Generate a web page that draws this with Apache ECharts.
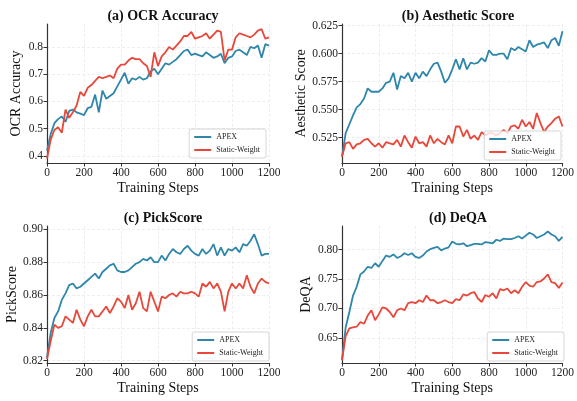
<!DOCTYPE html>
<html>
<head>
<meta charset="utf-8">
<script src="https://cdn.jsdelivr.net/npm/echarts@6/dist/echarts.min.js"></script>
<style>
html, body { margin: 0; padding: 0; background: #fff; }
#main { width: 577px; height: 401px; }
</style>
</head>
<body>
<div id="main"></div>
<script>
// training steps shared by every curve
var steps = [0,20,40,60,80,100,120,140,160,180,200,220,240,260,280,300,320,340,360,380,
  400,420,440,460,480,500,520,540,560,580,600,620,640,660,680,700,720,740,760,780,
  800,820,840,860,880,900,920,940,960,980,1000,1020,1040,1060,1080,1100,1120,1140,1160,1180,1200];

var ocrApex = [0.42,0.48,0.52,0.535,0.545,0.525,0.565,0.57,0.56,0.555,
  0.55,0.575,0.58,0.625,0.56,0.64,0.61,0.62,0.63,0.655,
  0.68,0.705,0.665,0.685,0.68,0.69,0.68,0.685,0.71,0.72,
  0.70,0.72,0.74,0.735,0.745,0.755,0.77,0.785,0.79,0.77,
  0.775,0.77,0.765,0.78,0.77,0.76,0.765,0.775,0.74,0.76,
  0.765,0.785,0.79,0.78,0.77,0.8,0.795,0.805,0.76,0.81,
  0.805];
var ocrStatic = [0.39,0.46,0.495,0.505,0.485,0.57,0.54,0.56,0.585,0.635,
  0.62,0.65,0.66,0.675,0.69,0.685,0.69,0.695,0.685,0.72,
  0.735,0.735,0.75,0.76,0.755,0.755,0.74,0.73,0.69,0.78,
  0.73,0.765,0.78,0.8,0.79,0.805,0.82,0.84,0.84,0.855,
  0.83,0.835,0.84,0.85,0.83,0.845,0.86,0.855,0.75,0.79,
  0.79,0.835,0.85,0.845,0.84,0.835,0.845,0.86,0.865,0.83,
  0.835];
var aesApex = [0.508,0.529,0.537,0.545,0.552,0.555,0.56,0.569,0.566,0.566,
  0.566,0.569,0.574,0.575,0.583,0.568,0.58,0.578,0.583,0.575,
  0.583,0.578,0.584,0.58,0.586,0.591,0.592,0.584,0.574,0.578,
  0.586,0.595,0.586,0.596,0.586,0.592,0.591,0.592,0.596,0.593,
  0.603,0.599,0.599,0.6,0.6,0.595,0.605,0.603,0.606,0.604,
  0.602,0.612,0.606,0.608,0.609,0.61,0.605,0.612,0.614,0.607,
  0.62];
var aesStatic = [0.508,0.52,0.521,0.515,0.519,0.52,0.523,0.524,0.52,0.517,
  0.52,0.516,0.521,0.52,0.519,0.523,0.517,0.527,0.521,0.516,
  0.526,0.52,0.521,0.517,0.527,0.52,0.524,0.521,0.519,0.527,
  0.52,0.535,0.535,0.526,0.532,0.524,0.527,0.523,0.53,0.527,
  0.529,0.529,0.527,0.529,0.532,0.529,0.535,0.536,0.533,0.541,
  0.535,0.539,0.533,0.547,0.538,0.53,0.535,0.538,0.542,0.544,
  0.535];
var pickApex = [0.822,0.837,0.846,0.85,0.857,0.861,0.866,0.867,0.864,0.865,
  0.867,0.869,0.871,0.873,0.87,0.874,0.876,0.878,0.879,0.875,
  0.874,0.874,0.875,0.877,0.879,0.88,0.882,0.881,0.883,0.88,
  0.88,0.884,0.881,0.885,0.888,0.886,0.885,0.888,0.89,0.887,
  0.885,0.884,0.888,0.885,0.887,0.891,0.884,0.889,0.884,0.888,
  0.887,0.889,0.886,0.891,0.89,0.893,0.897,0.891,0.884,0.885,
  0.885];
var pickStatic = [0.821,0.832,0.842,0.84,0.841,0.847,0.845,0.843,0.851,0.845,
  0.841,0.847,0.851,0.847,0.847,0.85,0.853,0.849,0.853,0.858,
  0.856,0.852,0.86,0.851,0.855,0.862,0.852,0.85,0.862,0.856,
  0.85,0.859,0.858,0.86,0.861,0.859,0.862,0.861,0.861,0.862,
  0.861,0.859,0.867,0.865,0.868,0.864,0.867,0.862,0.85,0.862,
  0.867,0.864,0.867,0.864,0.872,0.865,0.861,0.867,0.87,0.868,
  0.867];
var deqaApex = [0.612,0.668,0.694,0.722,0.737,0.758,0.763,0.771,0.769,0.777,
  0.771,0.781,0.79,0.788,0.792,0.786,0.789,0.794,0.791,0.794,
  0.788,0.786,0.79,0.797,0.801,0.803,0.805,0.799,0.802,0.804,
  0.814,0.81,0.809,0.811,0.806,0.808,0.81,0.81,0.809,0.813,
  0.812,0.811,0.817,0.815,0.819,0.818,0.818,0.82,0.823,0.819,
  0.824,0.829,0.826,0.82,0.823,0.826,0.831,0.826,0.823,0.815,
  0.822];
var deqaStatic = [0.612,0.653,0.666,0.668,0.669,0.677,0.674,0.688,0.697,0.68,
  0.69,0.702,0.7,0.694,0.685,0.697,0.7,0.697,0.709,0.711,
  0.709,0.714,0.711,0.722,0.714,0.714,0.709,0.711,0.714,0.711,
  0.709,0.716,0.714,0.724,0.722,0.726,0.728,0.717,0.711,0.723,
  0.72,0.726,0.717,0.733,0.731,0.734,0.726,0.731,0.726,0.737,
  0.745,0.739,0.737,0.745,0.746,0.751,0.758,0.745,0.743,0.735,
  0.744];

var ocrTicks = [0.4,0.5,0.6,0.7,0.8];
var aesTicks = [0.525,0.55,0.575,0.6,0.625];
var pickTicks = [0.82,0.84,0.86,0.88,0.9];
var deqaTicks = [0.65,0.7,0.75,0.8];
var seriesNames = ['APEX','Static-Weight'];

var FONT = 'Liberation Serif';
var BLUE = '#2e86ab';
var RED = '#e8483a';
var INK = '#222';

var panels = [
  {title:'(a) OCR Accuracy', yName:'OCR Accuracy', a:ocrApex, s:ocrStatic, ticks:ocrTicks, dec:1,
   min:0.374, max:0.884, grid:{left:47, right:308, top:24, bottom:238}, gap:24, leg:{right:311, bottom:243}, tx:158, ty:4},
  {title:'(b) Aesthetic Score', yName:'Aesthetic Score', a:aesApex, s:aesStatic, ticks:aesTicks, dec:3,
   min:0.5024, max:0.6265, grid:{left:342, right:12, top:24, bottom:238}, gap:33, leg:{right:16, bottom:241}, tx:453, ty:4},
  {title:'(c) PickScore', yName:'PickScore', a:pickApex, s:pickStatic, ticks:pickTicks, dec:2,
   min:0.8186, max:0.902, grid:{left:47, right:308, top:226, bottom:38}, gap:28, leg:{right:308, bottom:40}, tx:158, ty:206},
  {title:'(d) DeQA', yName:'DeQA', a:deqaApex, s:deqaStatic, ticks:deqaTicks, dec:2,
   min:0.6072, max:0.8404, grid:{left:342, right:12, top:226, bottom:38}, gap:29, leg:{right:13, bottom:40}, tx:453, ty:206}
];

function pairs(vals) {
  return steps.map(function (x, i) { return [x, vals[i]]; });
}

var axisLine = {show: true, lineStyle: {color: '#333', width: 1.2}};
var gridLine = {show: true, lineStyle: {color: '#e6e6e6', type: [3, 2], width: 0.7}};

var option = {animation: false, title: [], grid: [], xAxis: [], yAxis: [], legend: [], series: []};

panels.forEach(function (p, i) {
  option.title.push({
    text: p.title, left: p.tx, top: p.ty, textAlign: 'center',
    textStyle: {fontFamily: FONT, fontWeight: 'bold', fontSize: 14, color: '#111'}
  });
  option.grid.push(p.grid);
  option.xAxis.push({
    gridIndex: i, type: 'value', min: 0, max: 1200, interval: 200,
    axisLine: axisLine,
    axisTick: {show: true, length: 3.5, lineStyle: {color: '#333'}},
    axisLabel: {fontFamily: FONT, fontSize: 11.5, color: INK, margin: 4,
      formatter: function (v) { return String(v); }},
    splitLine: gridLine,
    name: 'Training Steps', nameLocation: 'middle', nameGap: 18,
    nameTextStyle: {fontFamily: FONT, fontSize: 14, color: '#111'}
  });
  option.yAxis.push({
    gridIndex: i, type: 'value', min: p.min, max: p.max,
    axisLine: axisLine,
    axisTick: {show: true, length: 3.5, lineStyle: {color: '#333'}, customValues: p.ticks},
    axisLabel: {
      fontFamily: FONT, fontSize: 11.5, color: INK, margin: 4, customValues: p.ticks,
      formatter: (function (d) { return function (v) { return Number(v).toFixed(d); }; })(p.dec)
    },
    splitLine: gridLine,
    name: p.yName, nameLocation: 'middle', nameGap: p.gap,
    nameTextStyle: {fontFamily: FONT, fontSize: 14, color: '#111'}
  });
  option.legend.push({
    data: seriesNames, orient: 'vertical', right: p.leg.right, bottom: p.leg.bottom,
    icon: 'rect', itemWidth: 17, itemHeight: 2, itemGap: 5, padding: [4, 6, 4, 5],
    backgroundColor: 'rgba(255,255,255,0.8)', borderColor: '#ccc', borderWidth: 0.8, borderRadius: 2,
    textStyle: {fontFamily: FONT, fontSize: 8, color: INK}
  });
  [[p.a, BLUE], [p.s, RED]].forEach(function (d, k) {
    option.series.push({
      name: seriesNames[k], type: 'line', xAxisIndex: i, yAxisIndex: i,
      data: pairs(d[0]), symbol: 'none', showSymbol: false,
      color: d[1], lineStyle: {color: d[1], width: 1.8}
    });
  });
});

var chart = echarts.init(document.getElementById('main'));
chart.setOption(option);
</script>
</body>
</html>
